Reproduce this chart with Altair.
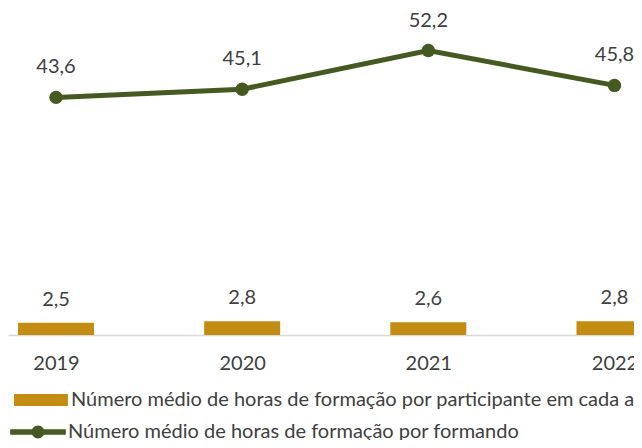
import altair as alt
import pandas as pd

years = [2019, 2020, 2021, 2022]
horas_participante = [2.5, 2.8, 2.6, 2.8]
horas_formando = [43.6, 45.1, 52.2, 45.8]
labels_part = ["2,5", "2,8", "2,6", "2,8"]
labels_form = ["43,6", "45,1", "52,2", "45,8"]

serie_bar = "Número médio de horas de formação por participante em cada ação"
serie_line = "Número médio de horas de formação por formando"

df = pd.DataFrame({
    "ano": years,
    "part": horas_participante,
    "form": horas_formando,
    "lp": labels_part,
    "lf": labels_form,
    "sb": [serie_bar] * 4,
    "sl": [serie_line] * 4,
})

FONT = "Lato"
FS = 20
TXT = "#404040"
GOLD = "#C38C12"
GREEN = "#445A21"

xscale = alt.Scale(domain=[2018.769, 2022.078], nice=False, zero=False)
x = alt.X("ano:Q", scale=xscale, title=None,
          axis=alt.Axis(values=years, format="d", grid=False, ticks=False,
                        domainColor="#D9D9D9", domainWidth=1.5,
                        labelFont=FONT, labelFontSize=FS, labelColor=TXT,
                        labelPadding=18, labelFlush=False))

ybar = alt.Scale(domain=[0, 67], nice=False)
yline = alt.Scale(domain=[0, 60], nice=False)

bar_path = "M-1,-0.22L1,-0.22L1,0.22L-1,0.22Z"
line_path = ("M-1,-0.1L1,-0.1L1,0.1L-1,0.1Z "
             "M-0.23,0A0.23,0.23 0 1,1 0.23,0A0.23,0.23 0 1,1 -0.23,0Z")

bars = alt.Chart(df).mark_bar(size=76, color=GOLD).encode(
    x=x,
    y=alt.Y("part:Q", scale=ybar, axis=None),
    fill=alt.Fill("sb:N", scale=alt.Scale(range=[GOLD]),
                  legend=alt.Legend(title=None, orient="none", legendX=6, legendY=365,
                                    symbolType=bar_path, symbolSize=2900,
                                    symbolStrokeWidth=0, labelFont=FONT,
                                    labelFontSize=FS, labelColor=TXT,
                                    labelLimit=1000, labelOffset=3)),
)
bar_text = alt.Chart(df).mark_text(dy=-23, font=FONT, fontSize=FS, color=TXT).encode(
    x=x, y=alt.Y("part:Q", scale=ybar, axis=None), text="lp:N")

line = alt.Chart(df).mark_line(strokeWidth=5, color=GREEN).encode(
    x=x,
    y=alt.Y("form:Q", scale=yline, axis=None),
    stroke=alt.Stroke("sl:N", scale=alt.Scale(range=[GREEN]),
                      legend=alt.Legend(title=None, orient="none", legendX=2, legendY=396,
                                        symbolType=line_path, symbolSize=3100,
                                        symbolFillColor=GREEN, symbolStrokeWidth=0,
                                        labelFont=FONT, labelFontSize=FS,
                                        labelColor=TXT, labelLimit=1000, labelOffset=2)),
)
points = alt.Chart(df).mark_point(filled=True, size=180, opacity=1, color=GREEN).encode(
    x=x, y=alt.Y("form:Q", scale=yline, axis=None))
line_text = alt.Chart(df).mark_text(dy=-30, font=FONT, fontSize=FS, color=TXT).encode(
    x=x, y=alt.Y("form:Q", scale=yline, axis=None), text="lf:N")

chart = alt.layer(
    alt.layer(bars, bar_text),
    alt.layer(line, points, line_text),
).resolve_scale(y="independent").properties(
    width=626, height=327,
    autosize=alt.AutoSizeParams(type="none"),
    padding={"left": 0, "top": 0, "right": 0, "bottom": 105},
).configure_view(stroke=None)

chart.save("out.html", embed_options={"renderer": "svg", "actions": False})
